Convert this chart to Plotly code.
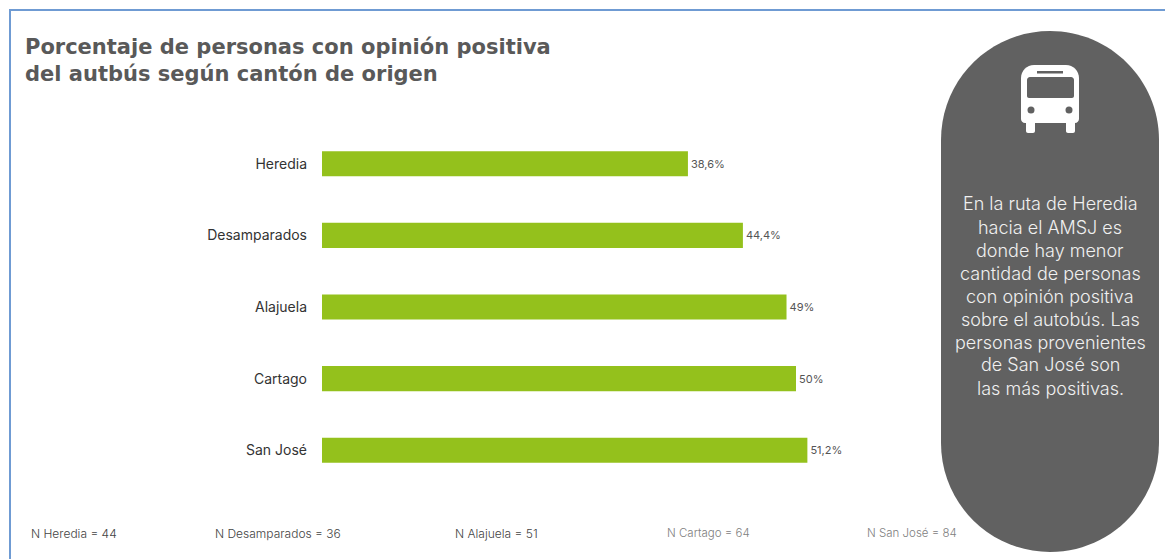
import plotly.graph_objects as go

W, H = 1165, 559

cantones = ["Heredia", "Desamparados", "Alajuela", "Cartago", "San José"]
valores = [38.6, 44.4, 49, 50, 51.2]
etiquetas = ["38,6%", "44,4%", "49%", "50%", "51,2%"]
titulo = "Porcentaje de personas con opinión positiva<br>del autbús según cantón de origen"
muestras = ["N Heredia = 44", "N Desamparados = 36", "N Alajuela = 51", "N Cartago = 64", "N San José = 84"]
muestras_x = [29, 213, 453, 665, 865]
muestras_color = ["#444444", "#444444", "#444444", "#808080", "#808080"]
muestras_size = [12, 12, 12, 11.5, 11.5]
mensaje = ["En la ruta de Heredia", "hacia el AMSJ es", "donde hay menor", "cantidad de personas",
           "con opinión positiva", "sobre el autobús. Las", "personas provenientes",
           "de San José son", "las más positivas."]
mensaje_y = [204, 227, 250, 273, 296, 319, 342, 364, 388]

FONT = "Inter"
GREY = "#616161"


def px(x):
    return x / W


def py(y):
    return 1 - y / H


def P(x, y):
    return f"{px(x):.5f},{py(y):.5f}"


def rect(x0, y0, x1, y1, color, layer="above"):
    return dict(type="rect", xref="paper", yref="paper", x0=px(x0), x1=px(x1), y0=py(y1), y1=py(y0),
                fillcolor=color, line_width=0, layer=layer)


def circle(cx, cy, r, color):
    return dict(type="circle", xref="paper", yref="paper", x0=px(cx - r), x1=px(cx + r), y0=py(cy + r), y1=py(cy - r),
                fillcolor=color, line_width=0, layer="above")


def rounded(x0, y0, x1, y1, rt, rb, color, k=0.5523):
    d = (f"M{P(x0, y0 + rt)} C{P(x0, y0 + rt - k * rt)} {P(x0 + rt - k * rt, y0)} {P(x0 + rt, y0)} "
         f"L{P(x1 - rt, y0)} C{P(x1 - rt + k * rt, y0)} {P(x1, y0 + rt - k * rt)} {P(x1, y0 + rt)} "
         f"L{P(x1, y1 - rb)} C{P(x1, y1 - rb + k * rb)} {P(x1 - rb + k * rb, y1)} {P(x1 - rb, y1)} "
         f"L{P(x0 + rb, y1)} C{P(x0 + rb - k * rb, y1)} {P(x0, y1 - rb + k * rb)} {P(x0, y1 - rb)} Z")
    return dict(type="path", xref="paper", yref="paper", path=d, fillcolor=color, line_width=0, layer="above")


fig = go.Figure(go.Bar(
    y=cantones, x=valores, orientation="h", marker_color="#94c11c", marker_line_width=0,
    text=etiquetas, textposition="outside", cliponaxis=False,
    textfont=dict(family=FONT, size=11, color="#555555"), width=0.35,
))

shapes = [
    rect(9, 9, W, 11, "#6f9bd3", "below"),
    rect(9, 9, 11, H, "#6f9bd3", "below"),
    rounded(941, 31, 1159, 552, 109, 109, GREY),
    rounded(1021, 65, 1079, 123, 13, 4, "#ffffff"),
    rounded(1027, 77, 1074, 98, 3, 2, GREY),
    rect(1037, 71, 1063, 73.5, GREY),
    circle(1031, 110, 3.5, GREY),
    circle(1069, 110, 3.5, GREY),
    rounded(1026, 118, 1035, 133, 1, 2, "#ffffff"),
    rounded(1066, 118, 1075, 133, 1, 2, "#ffffff"),
]

annotations = [dict(
    x=px(23), y=py(60), xref="paper", yref="paper", xanchor="left", yanchor="middle", align="left", showarrow=False,
    text=f"<b>{titulo}</b>", font=dict(family="DejaVu Sans", size=21, color="#595959"),
)]
for s, x, c, z in zip(muestras, muestras_x, muestras_color, muestras_size):
    annotations.append(dict(x=px(x), y=py(533), xref="paper", yref="paper", xanchor="left", yanchor="middle",
                            showarrow=False, text=s, font=dict(family=FONT, size=z, color=c, weight=300)))
for s, y in zip(mensaje, mensaje_y):
    annotations.append(dict(x=px(1050), y=py(y), xref="paper", yref="paper", xanchor="center", yanchor="middle",
                            showarrow=False, text=s, font=dict(family=FONT, size=18, color="#f0f0f0", weight=300)))

fig.update_layout(
    width=W, height=H, autosize=False, showlegend=False,
    paper_bgcolor="#ffffff", plot_bgcolor="#ffffff",
    margin=dict(l=0, r=0, t=0, b=0),
    xaxis=dict(domain=[322 / W, 1], range=[0, (W - 322) / 9.48], visible=False, fixedrange=True),
    yaxis=dict(domain=[py(486), py(128)], autorange="reversed", showgrid=False, zeroline=False, showline=False,
               ticks="", ticklabelstandoff=14, tickfont=dict(family=FONT, size=14, color="#333333")),
    shapes=shapes, annotations=annotations,
)
fig.update_yaxes(automargin=False)
fig.write_html("out.html", config=dict(displayModeBar=False),
               post_script="document.body.style.margin='0';document.documentElement.style.overflow='hidden';")
